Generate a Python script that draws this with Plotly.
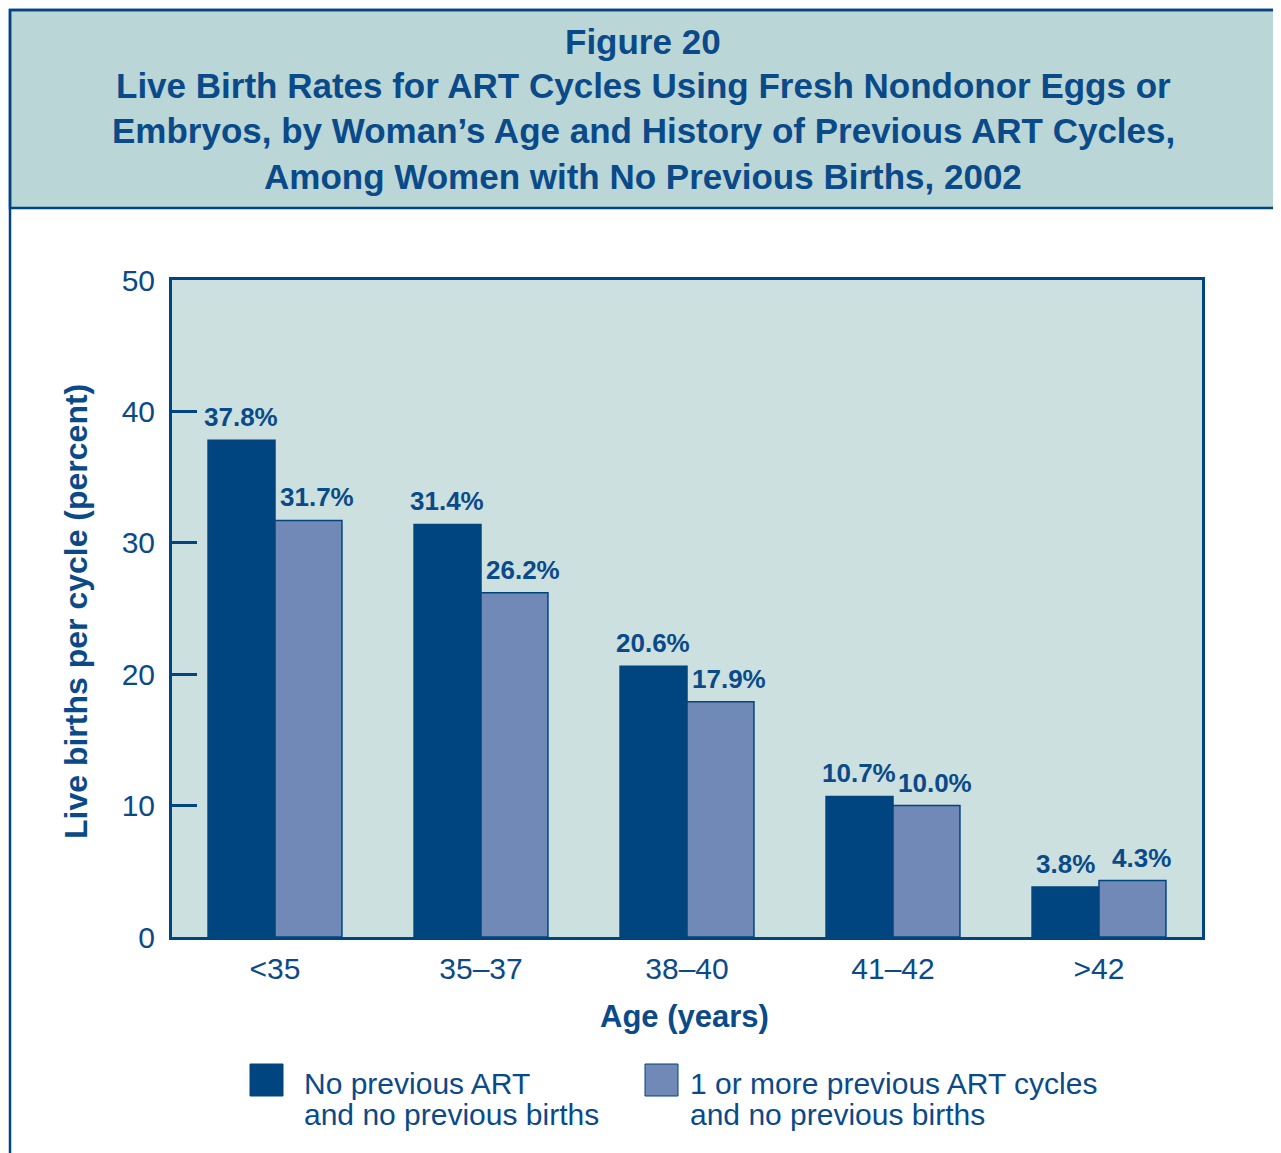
import plotly.graph_objects as go

# data
age_groups = ["<35", "35–37", "38–40", "41–42", ">42"]
no_prev_art = [37.8, 31.4, 20.6, 10.7, 3.8]
prev_art = [31.7, 26.2, 17.9, 10.0, 4.3]
series_names = [
    ["No previous ART", "and no previous births"],
    ["1 or more previous ART cycles", "and no previous births"],
]
title_lines = [
    "Figure 20",
    "Live Birth Rates for ART Cycles Using Fresh Nondonor Eggs or",
    "Embryos, by Woman’s Age and History of Previous ART Cycles,",
    "Among Women with No Previous Births, 2002",
]

DARK = "#00457f"
LIGHT = "#7189b7"
TEXT = "#0a4a89"
PLOT_BG = "#cce0df"
BAND_BG = "#bad6d6"
FONT = "Liberation Sans, Arial, sans-serif"

OFF = 8  # the page body margin shifts the figure by this much
W, H = 1281 - OFF, 1153 - OFF
L, R, T, B = 172, 1202, 280, 937  # plot area in page pixels


def px_x(x):
    return (x - L) / (R - L)


def px_y(y):
    return (B - y) / (B - T)


fig = go.Figure()
for vals, color in [(no_prev_art, DARK), (prev_art, LIGHT)]:
    fig.add_trace(go.Bar(
        x=age_groups,
        y=vals,
        marker=dict(color=color, line=dict(color=DARK, width=1.5)),
        showlegend=False,
        hoverinfo="skip",
    ))

shapes = [
    # title band
    dict(type="rect", xref="paper", yref="paper",
         x0=px_x(10), x1=px_x(1295), y0=px_y(208), y1=px_y(10),
         fillcolor=BAND_BG, line=dict(color=DARK, width=2.5), layer="below"),
    # outer frame
    dict(type="rect", xref="paper", yref="paper",
         x0=px_x(10), x1=px_x(1295), y0=px_y(1170), y1=px_y(10),
         line=dict(color=DARK, width=2.5)),
]

annotations = []
for i, line in enumerate(title_lines):
    annotations.append(dict(
        text=line, xref="paper", yref="paper",
        x=px_x(643), y=px_y(41 + 45 * i), xanchor="center", yanchor="middle",
        showarrow=False,
        font=dict(family=FONT, size=35, color=TEXT, weight="bold"),
    ))

# value labels above the bars
for vals, xshift in [(no_prev_art, -34), (prev_art, 42)]:
    for cat, v in zip(age_groups, vals):
        annotations.append(dict(
            text=f"{v:.1f}%", x=cat, y=v, xref="x", yref="y",
            xshift=xshift, yshift=23, xanchor="center", yanchor="middle",
            showarrow=False,
            font=dict(family=FONT, size=26, color=TEXT, weight="bold"),
        ))

annotations.append(dict(
    text="Live births per cycle (percent)", xref="paper", yref="paper",
    x=px_x(76), y=px_y(612), textangle=-90, xanchor="center", yanchor="middle",
    showarrow=False, font=dict(family=FONT, size=32, color=TEXT, weight="bold"),
))
annotations.append(dict(
    text="Age (years)", xref="paper", yref="paper",
    x=px_x(684), y=px_y(1016), xanchor="center", yanchor="middle",
    showarrow=False, font=dict(family=FONT, size=31, color=TEXT, weight="bold"),
))

# legend built from squares and text
for (sx, tx), color, lines in zip([(250, 302), (645, 688)], [DARK, LIGHT], series_names):
    shapes.append(dict(
        type="rect", xref="paper", yref="paper",
        x0=px_x(sx), x1=px_x(sx + 33), y0=px_y(1096), y1=px_y(1064),
        fillcolor=color, line=dict(color=DARK, width=1),
    ))
    for j, ln in enumerate(lines):
        annotations.append(dict(
            text=ln, xref="paper", yref="paper",
            x=px_x(tx), y=px_y(1083 + 31 * j), xanchor="left", yanchor="middle",
            showarrow=False, font=dict(family=FONT, size=30, color=TEXT),
        ))

fig.update_layout(
    width=W, height=H,
    margin=dict(l=L - OFF, r=W - (R - OFF), t=T - OFF, b=H - (B - OFF), autoexpand=False),
    paper_bgcolor="white",
    plot_bgcolor=PLOT_BG,
    barmode="group",
    bargap=0.35,
    bargroupgap=0,
    shapes=shapes,
    annotations=annotations,
    font=dict(family=FONT, color=TEXT),
)
fig.update_xaxes(
    showline=True, linecolor=DARK, linewidth=3, mirror=True,
    ticks="", showgrid=False,
    tickfont=dict(family=FONT, size=30, color=TEXT),
    ticklabelstandoff=3,
)
fig.update_yaxes(
    range=[0, 50], tickvals=[0, 10, 20, 30, 40, 50],
    showline=True, linecolor=DARK, linewidth=3, mirror=True,
    ticks="inside", ticklen=25, tickwidth=2.5, tickcolor=DARK,
    showgrid=False, zeroline=False,
    tickfont=dict(family=FONT, size=30, color=TEXT),
    ticklabelstandoff=8,
)

fig.write_html("out.html")
